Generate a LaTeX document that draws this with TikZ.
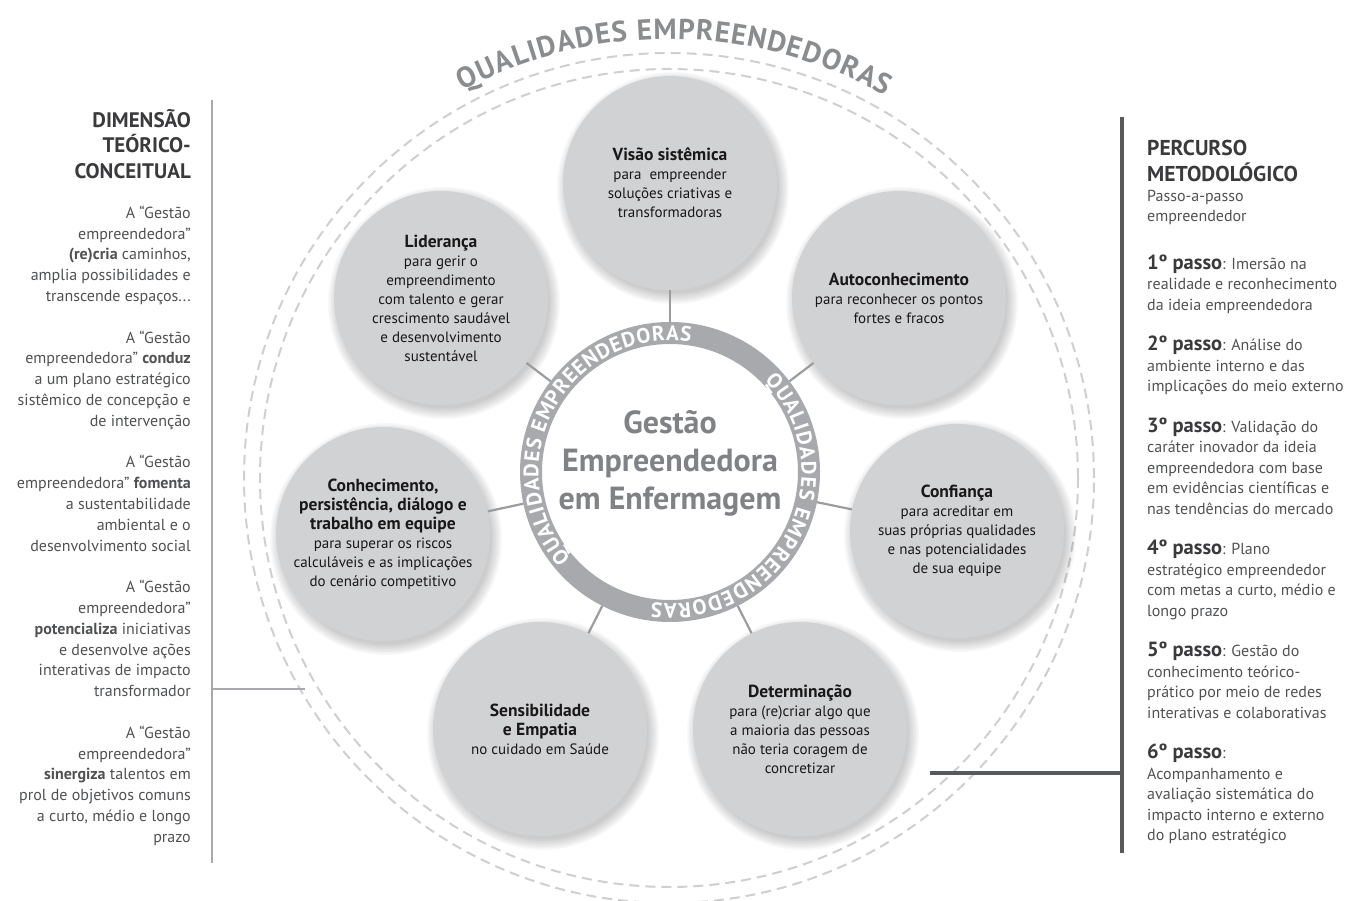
\documentclass[tikz,border=0pt]{standalone}
\usepackage{fontspec}
\setmainfont{PT Sans}
\usetikzlibrary{decorations.text}
\definecolor{qfill}{HTML}{D1D2D4}
\definecolor{ringgray}{HTML}{A7A9AC}
\definecolor{dashgray}{HTML}{CFCFCF}
\definecolor{conngray}{HTML}{9B9C9E}
\definecolor{titlegray}{HTML}{8A8C8E}
\definecolor{centergray}{HTML}{808285}
\definecolor{sidetext}{HTML}{505153}
\definecolor{sidehead}{HTML}{3A3A3C}
\definecolor{leftline}{HTML}{A7A9AC}
\definecolor{rightline}{HTML}{58595B}
\definecolor{circtext}{HTML}{1A1718}
\newcommand\ringtxt{\fontsize{21}{21}\selectfont\bfseries\color{white}}
\newcommand\titletxt{\fontsize{29}{29}\selectfont\bfseries\color{titlegray}}
\newcommand\stp[1]{{\fontsize{20.5}{20.4}\selectfont\bfseries\color{sidehead}#1}}
\newcommand\ttl[1]{{\fontsize{17.5}{20}\selectfont\bfseries #1}}
\pgfdeclarelayer{bg}
\pgfsetlayers{bg,main}
\begin{document}
\begin{tikzpicture}[x=1pt,y=1pt,
  qcirc/.style={circle, fill=qfill, minimum size=214pt, inner sep=0pt, align=center, text=circtext, font=\fontsize{15}{19}\selectfont},
  conn/.style={draw=conngray, line width=2.2pt},
  dashcirc/.style={draw=dashgray, line width=2pt, dash pattern=on 10pt off 6pt},
  leftln/.style={draw=leftline, line width=2.5pt},
  rightln/.style={draw=rightline, line width=4pt},
  sidebody/.style={inner sep=0pt, text=sidetext, font=\fontsize{16}{20.8}\selectfont}]
\useasboundingbox (0,0) rectangle (1354,900);
\coordinate (C) at (670,428);
\coordinate (D) at (669,422);

% qualities
\node[qcirc] (vis) at (670,717) {\ttl{Visão sistêmica}\\para\ \ empreender\\soluções criativas e\\transformadoras};
\node[qcirc] (lid) at (441,602) {\ttl{Liderança}\\para gerir o\\empreendimento\\com talento e gerar\\crescimento saudável\\e desenvolvimento\\sustentável};
\node[qcirc] (aut) at (899,602) {\ttl{Autoconhecimento}\\para reconhecer os pontos\\fortes e fracos};
\node[qcirc] (conh) at (383,366) {\ttl{Conhecimento,}\\\ttl{persistência, diálogo e}\\\ttl{trabalho em equipe}\\para superar os riscos\\calculáveis e as implicações\\do cenário competitivo};
\node[qcirc] (conf) at (957,369) {\ttl{Confiança}\\para acreditar em\\suas próprias qualidades\\e nas potencialidades\\de sua equipe};
\node[qcirc] (sens) at (540,171) {\ttl{Sensibilidade}\\\ttl{e Empatia}\\no cuidado em Saúde};
\node[qcirc] (det) at (800,171) {\ttl{Determinação}\\para (re)criar algo que\\a maioria das pessoas\\não teria coragem de\\concretizar};

% central ring
\node[circle, draw=ringgray, line width=22pt, minimum size=278pt, inner sep=0pt, fill=white] (ring) at (C) {};
\node[font=\bfseries\fontsize{32}{38}\selectfont, text=centergray, align=center] (ctext) at (670,437) {Gestão\\Empreendedora\\em Enfermagem};
\path[decorate, decoration={text along path, text align={fit to path}, text={|\ringtxt|QUALIDADES EMPREENDEDORAS}}]
  (C) ++(221:131.5pt) arc[start angle=221, end angle=81, radius=131.5pt];
\path[decorate, decoration={text along path, text align={fit to path}, text={|\ringtxt|QUALIDADES EMPREENDEDORAS}}]
  (C) ++(44:131.5pt) arc[start angle=44, end angle=-98, radius=131.5pt];

% outer title
\path[decorate, decoration={text along path, text align={fit to path}, text={|\titletxt|QUALIDADES EMPREENDEDORAS}}]
  (D) ++(118:439pt) arc[start angle=118, end angle=60.5, radius=439pt];

% left panel
\coordinate (LT) at (212,800);
\coordinate (LB) at (212,37);
\coordinate (LH) at (305,211);
\draw[leftln] (LT) -- (LB);
\draw[leftln] (LH) -- (LH -| LT);
\node[anchor=north east, inner sep=0pt, align=right, text=sidehead, font=\bfseries\fontsize{21}{25.5}\selectfont] (lhead) at (191,794) {\rule{0pt}{1em}DIMENSÃO\\TEÓRICO-\\CONCEITUAL};
\node[sidebody, anchor=north east, align=right] (lbody) at (191,698) {\rule{0pt}{1em}A “Gestão\\empreendedora”\\\textbf{(re)cria} caminhos,\\amplia possibilidades e\\transcende espaços...\\[20.8pt]
A “Gestão\\empreendedora” \textbf{conduz}\\a um plano estratégico\\sistêmico de concepção e\\de intervenção\\[20.8pt]
A “Gestão\\empreendedora” \textbf{fomenta}\\a sustentabilidade\\ambiental e o\\desenvolvimento social\\[20.8pt]
A “Gestão\\empreendedora”\\\textbf{potencializa} iniciativas\\e desenvolve ações\\interativas de impacto\\transformador\\[20.8pt]
A “Gestão\\empreendedora”\\\textbf{sinergiza} talentos em\\prol de objetivos comuns\\a curto, médio e longo\\prazo};

% right panel
\coordinate (RT) at (1122,783);
\coordinate (RB) at (1122,47);
\coordinate (RH) at (930,127);
\draw[rightln] (RT) -- (RB);
\draw[rightln] (RH) -- (RH -| RT);
\node[anchor=north west, inner sep=0pt, align=left, text=sidehead, font=\bfseries\fontsize{21.5}{26}\selectfont] (rhead) at (1147,766) {\rule{0pt}{1em}PERCURSO\\METODOLÓGICO};
\node[sidebody, anchor=north west, align=left, font=\fontsize{16}{20}\selectfont] (rsub) at (1147,715) {\rule{0pt}{1em}Passo-a-passo\\empreendedor};
\node[sidebody, anchor=north west, align=left, font=\fontsize{16}{20.4}\selectfont] (rsteps) at (1147,651) {\rule{0pt}{20pt}\stp{1º passo}: Imersão na\\realidade e reconhecimento\\da ideia empreendedora\\[20.4pt]
\stp{2º passo}: Análise do\\ambiente interno e das\\implicações do meio externo\\[20.4pt]
\stp{3º passo}: Validação do\\caráter inovador da ideia\\empreendedora com base\\em evidências científicas e\\nas tendências do mercado\\[20.4pt]
\stp{4º passo}: Plano\\estratégico empreendedor\\com metas a curto, médio e\\longo prazo\\[20.4pt]
\stp{5º passo}: Gestão do\\conhecimento teórico-\\prático por meio de redes\\interativas e colaborativas\\[20.4pt]
\stp{6º passo}:\\Acompanhamento e\\avaliação sistemática do\\impacto interno e externo\\do plano estratégico};

% background: dashed circles, shadows, connectors
\begin{pgfonlayer}{bg}
\draw[dashcirc] (D) circle[radius=409pt];
\draw[dashcirc] (D) circle[radius=425pt];
\foreach \n in {vis,lid,aut,conh,conf,sens,det}{
  \foreach \k in {1,...,8}{
    \fill[black, opacity=0.028] ([shift={(3pt,-5pt)}]\n.center) circle[radius={(104+\k*1.5)*1pt}];
  }
}
\foreach \n in {vis,lid,aut,conh,conf,sens,det}{
  \draw[conn] (ring) -- (\n);
}
\end{pgfonlayer}
\end{tikzpicture}
\end{document}
